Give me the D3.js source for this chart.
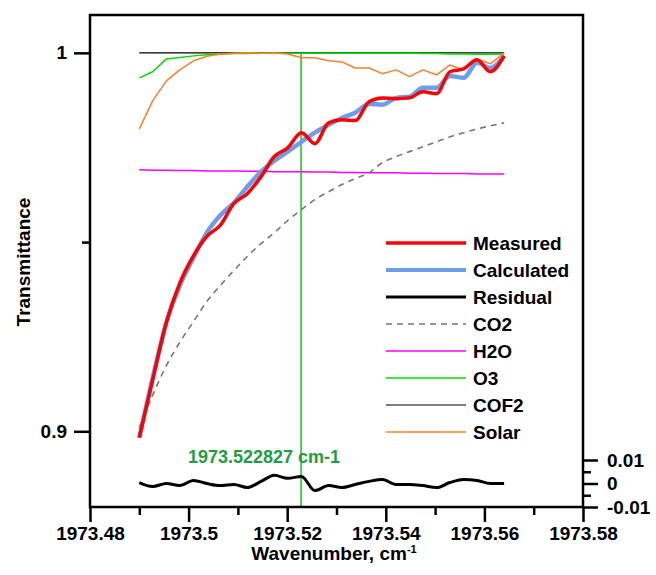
<!DOCTYPE html>
<html>
<head>
<meta charset="utf-8">
<script src="https://cdn.jsdelivr.net/npm/d3@7.9.0/dist/d3.min.js"></script>
<style>
  body { margin: 0; background: #fff; }
  svg { display: block; font-family: "Liberation Sans", Arial, sans-serif; font-weight: bold; }
</style>
</head>
<body>
<svg id="chart" width="656" height="575"></svg>
<script>
// wavenumber grid (cm-1)
const wavenumbers = [
  1973.4900, 1973.4927, 1973.4955, 1973.4982, 1973.5010, 1973.5037, 1973.5064,
  1973.5092, 1973.5119, 1973.5147, 1973.5174, 1973.5201, 1973.5229, 1973.5256,
  1973.5284, 1973.5311, 1973.5338, 1973.5366, 1973.5393, 1973.5421, 1973.5448,
  1973.5475, 1973.5503, 1973.5530, 1973.5558, 1973.5585, 1973.5612, 1973.5640
];

const measured = [
  0.8984, 0.9135, 0.9288, 0.9391, 0.9464, 0.9515, 0.9544, 0.9602, 0.9628, 0.9673,
  0.9726, 0.9749, 0.9789, 0.9760, 0.9815, 0.9823, 0.9821, 0.9871, 0.9881, 0.9879,
  0.9881, 0.9897, 0.9892, 0.9950, 0.9958, 0.9982, 0.9950, 0.9992
];
const calculated = [
  0.8982, 0.9140, 0.9288, 0.9385, 0.9459, 0.9525, 0.9570, 0.9604, 0.9646, 0.9686,
  0.9715, 0.9739, 0.9765, 0.9789, 0.9810, 0.9828, 0.9842, 0.9865, 0.9863, 0.9881,
  0.9884, 0.9908, 0.9908, 0.9939, 0.9934, 0.9974, 0.9960, 0.9992
];
const residual = [
  0.0004, -0.0013, 0.0000, -0.0009, 0.0013, 0.0000, -0.0009, -0.0004, -0.0017, 0.0009,
  0.0035, 0.0022, 0.0030, -0.0030, -0.0009, -0.0017, -0.0004, 0.0009, 0.0017, -0.0004,
  -0.0004, -0.0009, -0.0017, 0.0004, 0.0017, 0.0013, 0.0000, 0.0000
];
const co2 = [
  0.9011, 0.9095, 0.9174, 0.9235, 0.9290, 0.9343, 0.9385, 0.9425, 0.9462, 0.9496,
  0.9525, 0.9557, 0.9586, 0.9612, 0.9633, 0.9652, 0.9668, 0.9683, 0.9710, 0.9726,
  0.9739, 0.9752, 0.9765, 0.9778, 0.9789, 0.9799, 0.9807, 0.9815
];
const h2o = [
  0.9691, 0.9690, 0.9690, 0.9689, 0.9689, 0.9688, 0.9688, 0.9688, 0.9687, 0.9687,
  0.9686, 0.9686, 0.9686, 0.9685, 0.9685, 0.9684, 0.9684, 0.9683, 0.9683, 0.9683,
  0.9682, 0.9682, 0.9681, 0.9681, 0.9681, 0.9680, 0.9680, 0.9680
];
const o3 = [
  0.9934, 0.9950, 0.9984, 0.9988, 0.9992, 0.9995, 0.9996, 0.9998, 0.9998, 0.9999,
  0.9999, 0.9999, 0.9999, 0.9999, 0.9999, 0.9999, 0.9999, 0.9999, 0.9999, 0.9999,
  0.9999, 0.9998, 0.9998, 0.9997, 0.9997, 0.9996, 0.9996, 0.9997
];
const cof2 = [
  1.0000, 1.0000, 1.0000, 1.0000, 1.0000, 1.0000, 1.0000, 1.0000, 1.0000, 1.0000,
  1.0000, 1.0000, 1.0000, 1.0000, 1.0000, 1.0000, 1.0000, 1.0000, 1.0000, 1.0000,
  1.0000, 1.0000, 1.0000, 1.0000, 1.0000, 1.0000, 1.0000, 1.0000
];
const solar = [
  0.9799, 0.9873, 0.9926, 0.9955, 0.9979, 0.9991, 0.9997, 0.9999, 1.0000, 0.9999,
  1.0000, 0.9997, 0.9987, 0.9987, 0.9979, 0.9976, 0.9960, 0.9960, 0.9945, 0.9955,
  0.9937, 0.9955, 0.9942, 0.9968, 0.9955, 0.9984, 0.9971, 1.0000
];

const markerWavenumber = 1973.522827;
const xTicks = [1973.48, 1973.5, 1973.52, 1973.54, 1973.56, 1973.58];
const xMinorTicks = [1973.49, 1973.51, 1973.53, 1973.55, 1973.57];
const yTicks = [0.9, 1];
const yMinorTicks = [0.95];
const residTicks = [-0.01, 0, 0.01];
const residMinorTicks = [-0.005, 0.005];

const legendItems = [
  { label: 'Measured', color: '#ff0000', width: 3.5, dash: null },
  { label: 'Calculated', color: '#6d9eeb', width: 4, dash: null },
  { label: 'Residual', color: '#000000', width: 3, dash: null },
  { label: 'CO2', color: '#777777', width: 1.6, dash: '6,5' },
  { label: 'H2O', color: '#ff00ff', width: 1.5, dash: null },
  { label: 'O3', color: '#00e000', width: 1.5, dash: null },
  { label: 'COF2', color: '#000000', width: 1.2, dash: null },
  { label: 'Solar', color: '#ff7f2a', width: 1.5, dash: null }
];

const box = { left: 90, right: 583, top: 15, bottom: 507 };
const svg = d3.select('#chart');

const x = d3.scaleLinear().domain([1973.48, 1973.58]).range([box.left, box.right]);
const y = d3.scaleLinear().domain([0.88, 1.01]).range([box.bottom, box.top]);
const yRes = d3.scaleLinear().domain([-0.01, 0.01]).range([box.bottom, 460]);

const fmtNum = (d) => String(+d.toFixed(3));

// vertical marker
svg.append('line')
  .attr('x1', x(markerWavenumber)).attr('x2', x(markerWavenumber))
  .attr('y1', y(1)).attr('y2', box.bottom)
  .attr('stroke', '#4cc94c').attr('stroke-width', 2);

svg.append('text')
  .attr('x', 264).attr('y', 463)
  .attr('text-anchor', 'middle')
  .attr('fill', '#1e9e40')
  .attr('font-size', 18)
  .text('1973.522827 cm-1');

function drawSeries(values, color, width, dash, scale, curve) {
  const line = d3.line()
    .x((d, i) => x(wavenumbers[i]))
    .y((d) => scale(d))
    .curve(curve || d3.curveLinear);
  svg.append('path')
    .datum(values)
    .attr('d', line)
    .attr('fill', 'none')
    .attr('stroke', color)
    .attr('stroke-width', width)
    .attr('stroke-dasharray', dash)
    .attr('stroke-linejoin', 'round');
}

drawSeries(cof2, '#000000', 1.2, null, y);
drawSeries(o3, '#00e000', 1.5, null, y);
drawSeries(solar, '#ff7f2a', 1.5, null, y);
drawSeries(h2o, '#ff00ff', 1.5, null, y);
drawSeries(co2, '#777777', 1.6, '6,5', y, d3.curveMonotoneX);
drawSeries(calculated, '#6d9eeb', 4.5, null, y, d3.curveMonotoneX);
drawSeries(measured, '#ff0000', 3.5, null, y, d3.curveMonotoneX);
drawSeries(residual, '#000000', 3, null, yRes, d3.curveMonotoneX);

// frame
svg.append('rect')
  .attr('x', box.left).attr('y', box.top)
  .attr('width', box.right - box.left).attr('height', box.bottom - box.top)
  .attr('fill', 'none').attr('stroke', '#000').attr('stroke-width', 2.5);

function styleAxis(g) {
  g.select('.domain').remove();
  g.selectAll('.tick line').attr('stroke', '#000').attr('stroke-width', 2.5);
  g.selectAll('.tick text')
    .attr('font-family', '"Liberation Sans", Arial, sans-serif')
    .attr('font-weight', 'bold')
    .attr('font-size', 19)
    .attr('fill', '#000');
}

// x axis
svg.append('g')
  .attr('transform', `translate(0,${box.bottom})`)
  .call(d3.axisBottom(x).tickValues(xTicks).tickSize(15).tickPadding(5).tickFormat(fmtNum))
  .call(styleAxis);
svg.append('g')
  .attr('transform', `translate(0,${box.bottom})`)
  .call(d3.axisBottom(x).tickValues(xMinorTicks).tickSize(8).tickFormat(''))
  .call(styleAxis);

// left axis
svg.append('g')
  .attr('transform', `translate(${box.left},0)`)
  .call(d3.axisLeft(y).tickValues(yTicks).tickSize(16).tickPadding(7).tickFormat(fmtNum))
  .call(styleAxis);
svg.append('g')
  .attr('transform', `translate(${box.left},0)`)
  .call(d3.axisLeft(y).tickValues(yMinorTicks).tickSize(8).tickFormat(''))
  .call(styleAxis);

// right residual axis
svg.append('g')
  .attr('transform', `translate(${box.right},0)`)
  .call(d3.axisRight(yRes).tickValues(residTicks).tickSize(15).tickPadding(9)
    .tickFormat((d) => (d === 0 ? '0' : (d < 0 ? '-' : '') + Math.abs(d).toFixed(2))))
  .call(styleAxis);
svg.append('g')
  .attr('transform', `translate(${box.right},0)`)
  .call(d3.axisRight(yRes).tickValues(residMinorTicks).tickSize(8).tickFormat(''))
  .call(styleAxis);

// axis titles
svg.append('text')
  .attr('transform', 'translate(30,262) rotate(-90)')
  .attr('text-anchor', 'middle')
  .attr('font-size', 19)
  .text('Transmittance');

const xTitle = svg.append('text')
  .attr('x', 334).attr('y', 560)
  .attr('text-anchor', 'middle')
  .attr('font-size', 19)
  .text('Wavenumber, cm');
xTitle.append('tspan')
  .attr('dy', -7)
  .attr('font-size', 11)
  .text('-1');

// legend
const legend = svg.append('g').attr('transform', 'translate(386,243)');
const rows = legend.selectAll('g')
  .data(legendItems)
  .join('g')
  .attr('transform', (d, i) => `translate(0,${i * 27})`);
rows.append('line')
  .attr('x1', 0).attr('x2', 80)
  .attr('stroke', (d) => d.color)
  .attr('stroke-width', (d) => d.width)
  .attr('stroke-dasharray', (d) => d.dash);
rows.append('text')
  .attr('x', 87).attr('dy', '0.35em')
  .attr('font-size', 19)
  .text((d) => d.label);
</script>
</body>
</html>
